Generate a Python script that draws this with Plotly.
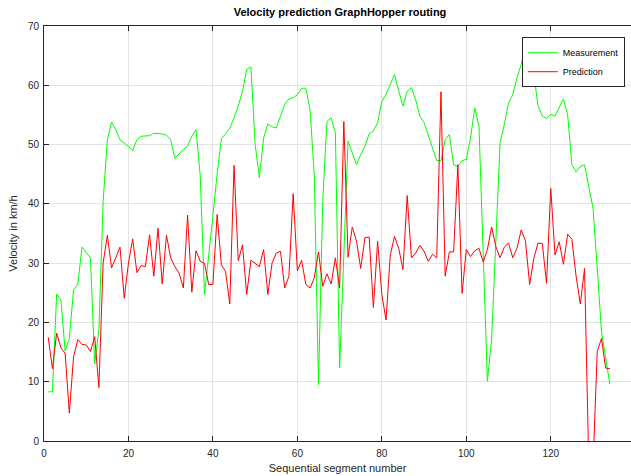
import plotly.graph_objects as go

segments = list(range(1, 135))

measurement = [
    8.3, 8.3, 24.8, 23.8, 15.2, 17.3, 25.5, 26.4, 32.7, 31.7,
    30.9, 13.0, 18.8, 40.4, 50.8, 53.8, 52.5, 50.8, 50.3, 49.7,
    49.0, 50.8, 51.4, 51.4, 51.5, 51.9, 51.9, 51.8, 51.6, 50.8,
    47.7, 48.4, 49.2, 49.7, 51.4, 52.5, 44.7, 24.7, 31.0, 38.0,
    45.0, 51.0, 51.8, 52.8, 54.5, 56.5, 59.0, 62.7, 63.1, 50.0,
    44.4, 51.1, 53.5, 53.0, 52.8, 54.8, 56.8, 57.7, 57.9, 58.4,
    59.5, 59.5, 55.9, 44.9, 9.5, 40.4, 53.9, 54.5, 52.0, 12.3,
    31.0, 50.6, 48.6, 46.6, 48.3, 49.7, 51.8, 52.3, 53.7, 57.3,
    58.5, 60.1, 61.8, 59.0, 56.5, 59.0, 59.6, 57.6, 54.8, 53.7,
    51.7, 49.4, 47.3, 47.3, 50.8, 51.7, 46.6, 46.3, 47.3, 47.5,
    51.1, 56.2, 53.1, 31.4, 10.1, 17.3, 34.8, 50.3, 53.4, 57.0,
    58.4, 61.3, 63.5, 66.5, 65.5, 61.8, 56.5, 54.8, 54.4, 55.1,
    54.8, 56.2, 57.7, 55.0, 46.6, 45.4, 46.3, 46.6, 43.2, 39.3,
    29.2, 18.5, 14.0, 9.6,
]

prediction = [
    17.5, 12.2, 18.2, 15.7, 14.8, 4.7, 14.2, 17.1, 16.3, 16.2,
    15.1, 17.6, 9.0, 30.0, 34.7, 29.2, 30.9, 32.7, 24.1, 30.0,
    34.1, 28.4, 29.6, 29.4, 34.8, 27.8, 35.9, 26.5, 34.7, 30.9,
    29.4, 28.3, 25.8, 38.1, 25.1, 32.1, 30.3, 30.0, 26.4, 26.4,
    38.2, 29.7, 28.6, 23.1, 46.5, 30.4, 33.1, 24.7, 30.5, 30.0,
    29.4, 32.3, 24.7, 30.0, 31.7, 32.0, 25.8, 27.8, 41.7, 28.7,
    30.5, 26.4, 25.8, 27.5, 31.9, 26.1, 28.2, 26.5, 30.9, 25.8,
    53.9, 31.0, 36.1, 33.7, 29.1, 34.3, 34.4, 22.5, 33.7, 24.7,
    20.4, 31.4, 34.5, 32.5, 28.9, 41.4, 30.9, 31.7, 33.0, 32.0,
    30.3, 31.5, 30.9, 58.9, 27.8, 31.9, 31.9, 46.6, 24.9, 32.3,
    31.1, 32.1, 32.5, 30.2, 32.3, 36.1, 32.8, 30.9, 32.7, 33.4,
    30.9, 32.5, 35.6, 33.8, 26.4, 30.9, 33.4, 33.3, 26.6, 42.6,
    31.4, 33.6, 29.8, 34.9, 34.0, 27.8, 23.1, 29.1, -4.0, -4.5,
    15.1, 17.3, 12.3, 12.2,
]

x_ticks = [0, 20, 40, 60, 80, 100, 120, 140]
y_ticks = [0, 10, 20, 30, 40, 50, 60, 70]

axis_color = "#262626"
grid_color = "#e3e3e3"
font_family = "Liberation Sans, Arial, sans-serif"

fig = go.Figure()
fig.add_trace(go.Scatter(x=segments, y=measurement, mode="lines", name="Measurement",
                         line=dict(color="#00ff00", width=1)))
fig.add_trace(go.Scatter(x=segments, y=prediction, mode="lines", name="Prediction",
                         line=dict(color="#ff0000", width=1)))

fig.update_layout(
    width=631, height=476,
    margin=dict(l=44, r=0, t=26, b=35),
    paper_bgcolor="white", plot_bgcolor="white",
    font=dict(family=font_family, size=10, color=axis_color),
    title=dict(text="<b>Velocity prediction GraphHopper routing</b>",
               x=(340 / 631), xanchor="center", y=1 - 12 / 476, yanchor="middle",
               font=dict(size=11, color="#000000")),
    legend=dict(x=0.814, y=0.973, xanchor="left", yanchor="top",
                bgcolor="white", bordercolor=axis_color, borderwidth=1,
                font=dict(size=9, color="#000000"), itemwidth=30,
                tracegroupgap=0),
    showlegend=True,
)
fig.update_xaxes(range=[0, 139], tickvals=x_ticks, ticks="inside", ticklen=5,
                 tickcolor=axis_color, showline=True, linecolor=axis_color, linewidth=1,
                 mirror="ticks", showgrid=True, gridcolor=grid_color, zeroline=False,
                 ticklabelstandoff=3,
                 title=dict(text="Sequential segment number", font=dict(size=11), standoff=6),
                 tickfont=dict(size=10, color=axis_color))
fig.update_yaxes(range=[0, 70], tickvals=y_ticks, ticks="inside", ticklen=5,
                 tickcolor=axis_color, showline=True, linecolor=axis_color, linewidth=1,
                 mirror=False, showgrid=True, gridcolor=grid_color, zeroline=False,
                 ticklabelstandoff=2,
                 title=dict(text="Velocity in km/h", font=dict(size=11), standoff=8),
                 tickfont=dict(size=10, color=axis_color))

fig.write_html("out.html")
